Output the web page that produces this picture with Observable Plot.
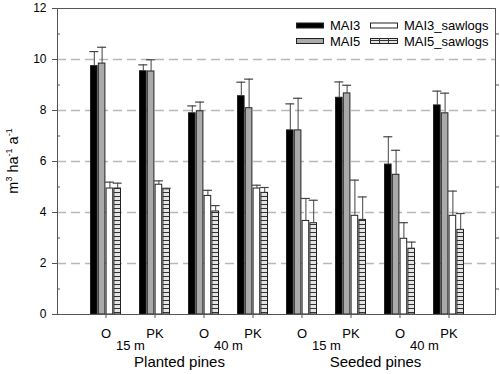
<!DOCTYPE html>
<html>
<head>
<meta charset="utf-8">
<script src="https://cdn.jsdelivr.net/npm/d3@7"></script>
<script src="https://cdn.jsdelivr.net/npm/@observablehq/plot@0.6"></script>
<style>
  html, body { margin: 0; padding: 0; background: #fff; }
  #wrap { position: relative; width: 500px; height: 374px; font-family: "Liberation Sans", Arial, sans-serif; }
  #legend { position: absolute; left: 0; top: 0; pointer-events: none; }
</style>
</head>
<body>
<div id="wrap"></div>
<script>
// ---- data ----
const groupKeys = ["g0", "g1", "g2", "g3", "g4", "g5", "g6", "g7"];
const groupLabels = ["O", "PK", "O", "PK", "O", "PK", "O", "PK"];
const distanceLabels = ["15 m", "40 m", "15 m", "40 m"];
const standLabels = ["Planted pines", "Seeded pines"];
const seriesNames = ["MAI3", "MAI5", "MAI3_sawlogs", "MAI5_sawlogs"];

const mai3 = [9.74, 9.54, 7.89, 8.56, 7.22, 8.50, 5.88, 8.20];
const mai3Err = [0.57, 0.25, 0.29, 0.55, 1.04, 0.62, 1.09, 0.56];
const mai5 = [9.84, 9.53, 7.97, 8.09, 7.22, 8.67, 5.48, 7.89];
const mai5Err = [0.64, 0.46, 0.36, 1.14, 1.26, 0.32, 0.96, 0.79];
const saw3 = [4.94, 5.09, 4.65, 4.94, 3.67, 3.87, 2.97, 3.87];
const saw3Err = [0.25, 0.15, 0.22, 0.13, 0.88, 1.40, 0.63, 0.97];
const saw5 = [4.94, 4.91, 4.04, 4.77, 3.58, 3.71, 2.58, 3.32];
const saw5Err = [0.21, 0.04, 0.23, 0.21, 0.90, 0.90, 0.26, 0.64];

const yMajorTicks = [0, 2, 4, 6, 8, 10, 12];
const yMinorTicks = [1, 3, 5, 7, 9, 11];
const gridValues = [2, 4, 6, 8, 10];

// ---- styling (not data) ----
const fills = ["#000000", "#aaaaaa", "#ffffff", "url(#brick)"];
const offsets = [-11.7, -3.9, 3.9, 11.7];
const values = [mai3, mai5, saw3, saw5];
const errs = [mai3Err, mai5Err, saw3Err, saw5Err];

const seriesRows = values.map((vals, s) =>
  groupKeys.map((k, i) => ({key: k, v: vals[i], e: errs[s][i]}))
);

const distRows = distanceLabels.map((t, i) => ({key: groupKeys[i * 2], text: t}));
const standRows = standLabels.map((t, i) => ({key: groupKeys[i * 4 + 1], text: t}));

const defsMark = () => {
  const defs = d3.create("svg:defs");
  const p = defs.append("pattern").attr("id", "brick")
    .attr("patternUnits", "userSpaceOnUse").attr("width", 8).attr("height", 4);
  p.append("rect").attr("width", 8).attr("height", 4).attr("fill", "#e4e4e4");
  p.append("line").attr("x1", 0).attr("x2", 8).attr("y1", 0.5).attr("y2", 0.5)
    .attr("stroke", "#333").attr("stroke-width", 1);
  return defs.node();
};

const marks = [defsMark,
  Plot.ruleY(gridValues, {stroke: "#b8b8b8", strokeWidth: 1.5, strokeDasharray: "9,5"})];

seriesRows.forEach((rows, s) => {
  marks.push(Plot.barY(rows, {
    x: "key", y: "v", fill: fills[s], stroke: "#222", strokeWidth: 1,
    dx: offsets[s], insetLeft: 21.2, insetRight: 21.2
  }));
});
seriesRows.forEach((rows, s) => {
  marks.push(Plot.ruleX(rows, {x: "key", y1: "v", y2: d => d.v + d.e, dx: offsets[s], stroke: "#444", strokeWidth: 1}));
  marks.push(Plot.tickY(rows, {x: "key", y: d => d.v + d.e, dx: offsets[s], insetLeft: 20, insetRight: 20, stroke: "#444", strokeWidth: 1.2}));
});

const noLabel = () => "";
marks.push(
  Plot.frame({stroke: "#555", strokeWidth: 1}),
  Plot.axisY({ticks: yMajorTicks, tickSize: 5, tickPadding: 6, fontSize: 12, stroke: "#555", label: null}),
  Plot.axisY({ticks: yMinorTicks, tickSize: -3, tickFormat: noLabel, label: null, stroke: "#555"}),
  Plot.axisY({anchor: "right", ticks: yMinorTicks, tickSize: 3, tickFormat: noLabel, label: null, stroke: "#555"}),
  Plot.axisX({tickSize: 4, tickPadding: 10, fontSize: 13, stroke: "#555",
    tickFormat: k => groupLabels[groupKeys.indexOf(k)], label: null}),
  Plot.text(distRows, {x: "key", text: "text", frameAnchor: "bottom", dx: 24.5, dy: 35, fontSize: 13}),
  Plot.text(standRows, {x: "key", text: "text", frameAnchor: "bottom", dx: 24.5, dy: 52, fontSize: 15})
);

const chart = Plot.plot({
  width: 500,
  height: 374,
  marginLeft: 57,
  marginRight: 5,
  marginTop: 8,
  marginBottom: 60,
  style: {fontFamily: "'Liberation Sans', Arial, sans-serif", fontSize: "12px", color: "#000", background: "#fff"},
  x: {type: "band", domain: groupKeys, range: [81, 473], padding: 0, axis: null},
  y: {domain: [0, 12], axis: null},
  marks
});
document.getElementById("wrap").appendChild(chart);

// ---- legend + y label overlay ----
const legendPos = [[296, 22.5], [296, 38], [370, 22.5], [370, 38]];
const leg = d3.select("#wrap").append("svg").attr("id", "legend")
  .attr("width", 500).attr("height", 374);
seriesNames.forEach((name, s) => {
  const [x, y] = legendPos[s];
  leg.append("rect").attr("x", x + 0.5).attr("y", y + 0.5).attr("width", 27).attr("height", 5)
    .attr("fill", fills[s]).attr("stroke", "#222").attr("stroke-width", 1);
  if (s === 3) {
    [9, 18].forEach(o => leg.append("line").attr("x1", x + 0.5 + o).attr("x2", x + 0.5 + o)
      .attr("y1", y + 0.5).attr("y2", y + 5.5).attr("stroke", "#333"));
  }
  leg.append("text").attr("x", x + 34).attr("y", y + 3).attr("dy", "0.35em")
    .attr("font-size", 13).attr("font-family", "'Liberation Sans', Arial, sans-serif")
    .attr("fill", "#000").text(name);
});

// y-axis title with superscripts
const yLabelParts = [["m", false], ["3", true], [" ha", false], ["-1", true], [" a", false], ["-1", true]];
const yl = leg.append("text")
  .attr("transform", "translate(18,161) rotate(-90)")
  .attr("text-anchor", "middle")
  .attr("font-size", 14.5).attr("font-family", "'Liberation Sans', Arial, sans-serif")
  .attr("fill", "#000");
yLabelParts.forEach(([t, sup], i) => {
  const ts = yl.append("tspan").text(t);
  if (sup) ts.attr("font-size", 9).attr("dy", -6);
  else if (i > 0) ts.attr("dy", 6);
});
</script>
</body>
</html>
